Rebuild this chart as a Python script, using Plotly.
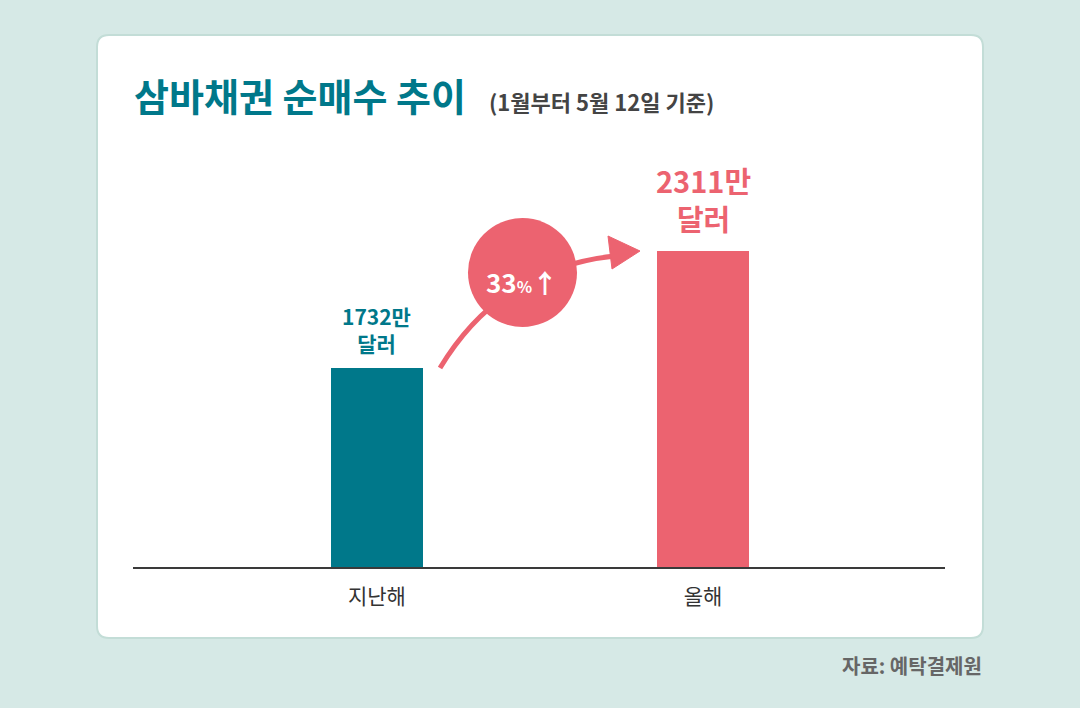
import plotly.graph_objects as go

categories = ["지난해", "올해"]
values = [1732, 2311]
labels = ["1732만<br>달러", "2311만<br>달러"]
colors = ["#00788a", "#ec6370"]
axis_base = 742

W, H = 1080, 708
L, R, T, B = 133, 135, 140, 140
PW, PH = W - L - R, H - T - B
F = "Noto Sans CJK KR"

def px(x): return (x - L) / PW
def py(y): return (H - B - y) / PH

fig = go.Figure(go.Bar(x=[0, 1], y=[v - axis_base for v in values], base=axis_base, width=0.282,
                       marker_color=colors, marker_line_width=0, hoverinfo="skip"))

def rr(x0, y0, x1, y1, rx, ry):
    return (f"M{x0+rx},{y0} L{x1-rx},{y0} Q{x1},{y0} {x1},{y0+ry} L{x1},{y1-ry} Q{x1},{y1} {x1-rx},{y1} "
            f"L{x0+rx},{y1} Q{x0},{y1} {x0},{y1-ry} L{x0},{y0+ry} Q{x0},{y0} {x0+rx},{y0} Z")
fig.add_shape(type="path", xref="paper", yref="paper", layer="below",
              path=rr(px(97), py(638), px(983), py(35), 12 / PW, 12 / PH),
              fillcolor="white", line=dict(color="#c3ddd7", width=2))
fig.add_shape(type="line", xref="paper", yref="paper", x0=px(133), x1=px(945), y0=py(568), y1=py(568),
              line=dict(color="#3a3a3a", width=2))
def P(x, y): return f"{px(x)},{py(y)}"
fig.add_shape(type="path", xref="paper", yref="paper",
              path=f"M{P(440,368)} Q{P(500,268)} {P(615,256)}",
              line=dict(color="#ec6370", width=5))
fig.add_shape(type="path", xref="paper", yref="paper",
              path=f"M{P(608,236)} L{P(640,251)} L{P(612,269)} Z",
              fillcolor="#ec6370", line=dict(color="#ec6370", width=1))
fig.add_shape(type="circle", xref="paper", yref="paper",
              x0=px(468), x1=px(577), y0=py(218), y1=py(327),
              fillcolor="#ec6370", line=dict(width=0))

fig.add_annotation(x=px(522), y=py(273), yshift=12, xref="paper", yref="paper", showarrow=False,
                   text="<b>33<span style='font-size:16px'>%</span>↑</b>",
                   font=dict(family=F, size=26, color="white"))
fig.add_annotation(x=0, y=values[0], yshift=8, xanchor="center", yanchor="bottom", showarrow=False,
                   text=f"<b>{labels[0]}</b>", font=dict(family=F, size=21, color=colors[0]))
fig.add_annotation(x=1, y=values[1], yshift=10, xanchor="center", yanchor="bottom", showarrow=False,
                   text=f"<b>{labels[1]}</b>", font=dict(family=F, size=29, color=colors[1]))
fig.add_annotation(x=px(132), y=py(95), xref="paper", yref="paper", xanchor="left", yanchor="middle",
                   showarrow=False, text="<b>삼바채권 순매수 추이</b>",
                   font=dict(family=F, size=38, color="#00788a"))
fig.add_annotation(x=px(487), y=py(101), xref="paper", yref="paper", xanchor="left", yanchor="middle",
                   showarrow=False, text="<b>(1월부터 5월 12일 기준)</b>",
                   font=dict(family=F, size=22, color="#444444"))
fig.add_annotation(x=px(984), y=py(665), xref="paper", yref="paper", xanchor="right", yanchor="middle",
                   showarrow=False, text="<b>자료: 예탁결제원</b>",
                   font=dict(family=F, size=20, color="#666666"))

fig.update_layout(
    width=W, height=H, margin=dict(l=L, r=R, t=T, b=B),
    paper_bgcolor="#d6e9e6", plot_bgcolor="rgba(0,0,0,0)", showlegend=False,
    xaxis=dict(range=[-0.748, 1.742], tickvals=[0, 1], ticktext=categories, showgrid=False,
               zeroline=False, showline=False, ticks="outside", ticklen=10, tickcolor="rgba(0,0,0,0)",
               tickfont=dict(family=F, size=21, color="#333333")),
    yaxis=dict(range=[axis_base, 2861], visible=False),
    bargap=0,
)
fig.write_html("out.html", config={"displayModeBar": False},
               post_script="document.body.style.margin='0';document.body.style.background='#d6e9e6';")
